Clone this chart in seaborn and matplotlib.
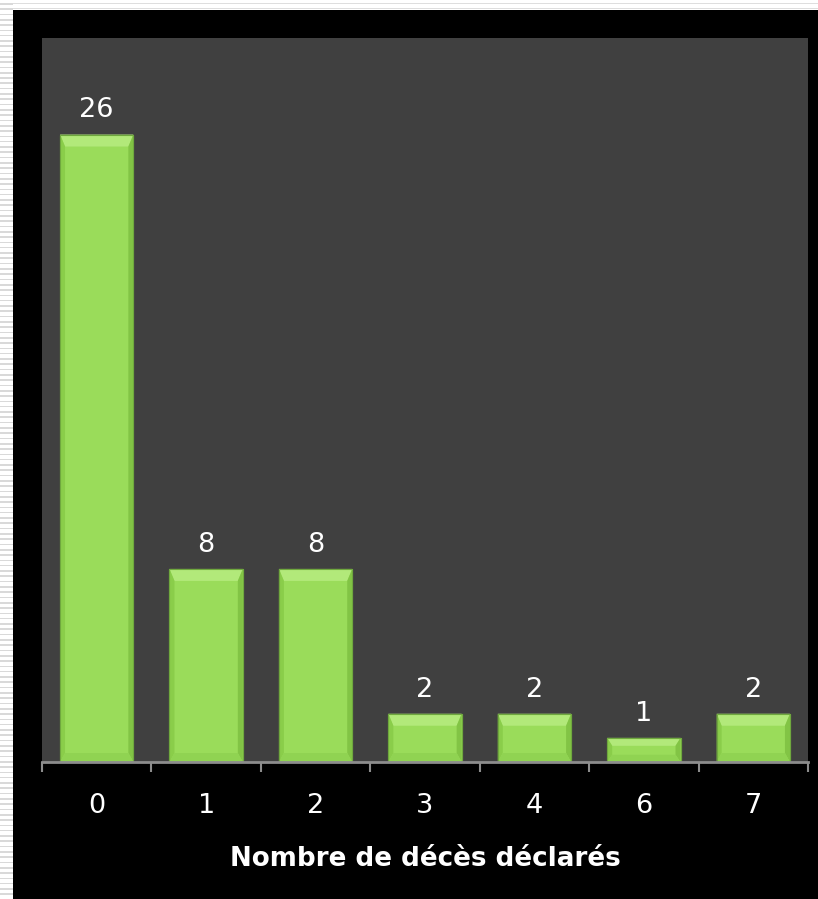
import numpy as np
import pandas as pd
import matplotlib
matplotlib.use("Agg")
import matplotlib.pyplot as plt
from matplotlib.patches import Rectangle, Polygon
import seaborn as sns

categories = ["0", "1", "2", "3", "4", "6", "7"]
values = [26, 8, 8, 2, 2, 1, 2]
xlabel = "Nombre de décès déclarés"

sns.set_theme(style="dark")
plt.rcParams['font.family'] = ['DejaVu Sans']

W, H = 818, 899
fig = plt.figure(figsize=(W / 100, H / 100), dpi=100, facecolor="black")

# light striped frame at left and top
fig.patches.append(Rectangle((0, 0), 13 / W, 1, transform=fig.transFigure,
                             facecolor="white", edgecolor="none", zorder=0))
fig.patches.append(Rectangle((0, 1 - 10 / H), 1, 10 / H, transform=fig.transFigure,
                             facecolor="white", edgecolor="none", zorder=0))
for yy in np.arange(3, H, 5.3):
    fig.patches.append(Rectangle((0, 1 - (yy + 1.6) / H), 13 / W, 1.6 / H,
                                 transform=fig.transFigure, facecolor="#d9d9d9",
                                 edgecolor="none", zorder=1))
for yy in [2.5, 7.5]:
    fig.patches.append(Rectangle((13 / W, 1 - (yy + 1.3) / H), 1 - 13 / W, 1.3 / H,
                                 transform=fig.transFigure, facecolor="#dedede",
                                 edgecolor="none", zorder=1))

ax = fig.add_axes([42 / W, (H - 762) / H, (808 - 42) / W, (762 - 38) / H])
ax.set_facecolor("#404040")

df = pd.DataFrame({"cat": categories, "val": values})
sns.barplot(data=df, x="cat", y="val", order=categories, color="#9ADC5A",
            saturation=1, width=0.67, ax=ax, edgecolor="#7DB848", linewidth=0.8)

ax.set_ylim(0, 30)
ax.set_xlim(-0.5, len(categories) - 0.5)

# bevel effect derived from each bar's geometry
px_x = 1.0 / 109.4
px_y = 30.0 / 724
for p in ax.patches:
    x0, y0 = p.get_x(), p.get_y()
    w, h = p.get_width(), p.get_height()
    x1, y1 = x0 + w, y0 + h
    dx = 5 * px_x
    dyt = min(12 * px_y, 0.33 * h)
    dyb = min(9 * px_y, 0.3 * h)
    polys = [
        ([(x0, y1), (x1, y1), (x1 - dx, y1 - dyt), (x0 + dx, y1 - dyt)], "#B2E97A"),
        ([(x0, y0), (x0, y1), (x0 + dx, y1 - dyt), (x0 + dx, y0 + dyb)], "#8ACD4A"),
        ([(x1, y0), (x1, y1), (x1 - dx, y1 - dyt), (x1 - dx, y0 + dyb)], "#82C445"),
        ([(x0, y0), (x1, y0), (x1 - dx, y0 + dyb), (x0 + dx, y0 + dyb)], "#90D352"),
    ]
    for pts, c in polys:
        ax.add_patch(Polygon(pts, closed=True, facecolor=c, edgecolor="none", zorder=3))
    ax.add_patch(Rectangle((x0, y0), w, h, facecolor="none", edgecolor="#6FA83E",
                           linewidth=0.8, zorder=4))

for cont in ax.containers:
    ax.bar_label(cont, labels=[str(v) for v in values], padding=8,
                 color="white", fontsize=19.5)

for s in ["top", "right", "left"]:
    ax.spines[s].set_visible(False)
ax.spines["bottom"].set_color("#8c8c8c")
ax.spines["bottom"].set_linewidth(2)
ax.spines["bottom"].set_zorder(5)

ax.set_yticks([])
ax.set_ylabel("")
ax.set_xticks(np.arange(-0.5, len(categories), 1))
ax.set_xticklabels([""] * (len(categories) + 1))
ax.set_xticks(np.arange(len(categories)), minor=True)
ax.set_xticklabels(categories, minor=True)
ax.tick_params(axis="x", which="major", direction="out", length=7, width=1.5,
               color="#8c8c8c", bottom=True)
ax.tick_params(axis="x", which="minor", length=0, pad=22, labelsize=19.5,
               labelcolor="white", bottom=True)
ax.set_xlabel(xlabel, color="white", fontsize=18.8, fontweight="bold", labelpad=20)
ax.grid(False)

fig.savefig("out.png", dpi=100, facecolor="black")
